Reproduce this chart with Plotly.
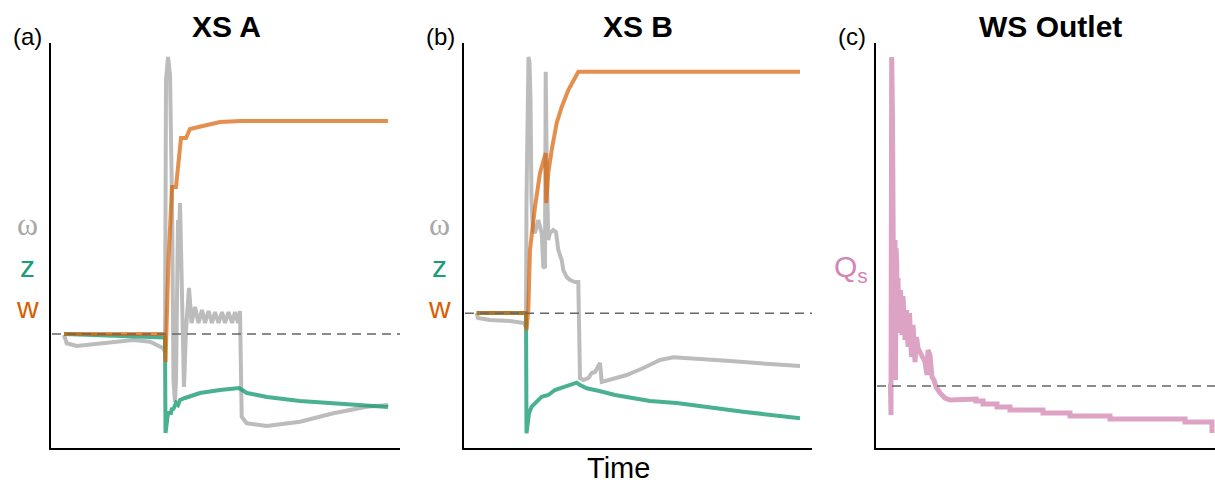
import plotly.graph_objects as go

W, H = 1215, 483

# ---- panel (a) XS A : time vs scaled value ----
a_dash_t = [1, 349]
a_dash_v = [114, 114]

a_w_t = [13, 114, 114.5, 117.5, 121, 125, 130, 135, 139, 144, 149, 159, 169, 189, 337]
a_w_v = [114, 114, 86, 188, 261, 261, 310, 310, 319, 320, 321, 324, 326, 327, 327]

a_z_t = [13, 49, 114, 114.5, 117, 120, 121, 122, 125, 127, 129, 134, 149, 169, 182, 188, 196, 216, 249, 282, 316, 337]
a_z_v = [114, 113, 110.5, 15, 35, 35, 40, 38, 45, 43, 48, 50, 55, 58, 60, 60, 55, 51, 47, 44.7, 42, 41]

a_om_t = [13, 15.7, 25.7, 49, 82.3, 99, 112.3, 114, 115, 117, 119, 121, 122.5, 124, 125, 127, 128, 129,
          131, 133, 135, 138, 140.5, 144, 147.5, 151, 154, 157.5, 161, 164, 167.5, 171, 174, 177.5, 181,
          184, 187, 189, 190.7, 195.7, 215.7, 249, 282.3, 315.7, 337.3]
a_om_v = [113, 104.7, 102, 104.7, 108, 106.3, 99.7, 96, 368, 391, 373, 248, 68, 46, 68, 228, 208, 245,
          148, 61, 118, 160, 125, 141, 125, 138, 125, 137, 125, 136, 125, 136, 125, 136, 125,
          136, 125, 137, 31.3, 24.7, 22, 26.3, 34.7, 41.3, 43]

# ---- panel (b) XS B ----
b_dash_t = [1, 348]
b_dash_v = [134.7, 134.7]

b_w_t = [12.7, 62, 62.5, 64.3, 66, 69.3, 71, 76, 80.3, 81.7, 82.2, 84.3, 87.7, 92.7, 97.7, 104.3, 114.3, 336]
b_w_v = [135, 135, 118, 138, 198, 228, 241, 275, 293, 295, 245, 275, 298, 325, 341, 358, 376.3, 376.3]

b_z_t = [12.7, 62, 62.5, 65, 67.7, 71, 74.3, 77.7, 84.3, 91, 101, 112.7, 116, 122.7, 134.3, 151, 186, 212.7, 279, 336]
b_z_v = [135, 135, 14.7, 34.7, 41.3, 44.7, 48, 51.3, 53, 58, 61.3, 65.3, 63, 59.7, 57.3, 53, 47, 45, 36.3, 29.7]

b_om_t = [12.7, 14, 26, 46, 60, 62, 62.5, 63.5, 64.5, 65.5, 66.5, 67.5, 69, 71, 74.3, 77.7, 79.3, 81,
          81.7, 82.7, 84.3, 86, 89.3, 92, 94.3, 97.7, 99.3, 102.7, 106, 111, 114.3, 116, 119.3, 124.3,
          127.7, 131, 134, 136, 137.7, 146, 162.7, 179.3, 196, 209.3, 229.3, 262.7, 296, 336]
b_om_v = [135, 130, 128, 127, 125, 121, 248, 378, 391, 386, 348, 248, 218, 215, 228, 215, 181.3, 180,
          376.3, 281.3, 208, 215, 218, 216, 198, 188, 178, 171, 168, 166, 166, 70, 68, 70,
          75, 76, 82, 85, 66, 68, 73, 80, 88, 90.7, 89.7, 87.3, 84.7, 82]

# ---- panel (c) WS Outlet ----
c_dash_t = [1, 339]
c_dash_v = [62, 62]

c_qs_t = [12, 14.5, 15, 15.7, 16.5, 17, 17.5, 18, 18.5, 19, 19.5, 20, 20.7, 21.3, 22, 23, 24.5, 26, 27,
          29, 30.5, 32, 33.5, 35.5, 37, 39, 40.5, 42, 46, 49, 51, 52, 54, 56, 58, 60, 64, 69, 74, 87,
          100, 100, 107, 107, 121, 121, 134, 134, 167, 167, 194, 194, 234, 234, 309, 309, 336, 336]
c_qs_v = [62, 62, 33, 391, 328, 243, 148, 230, 160, 208, 68, 200, 185, 120, 170, 115, 158, 113, 152,
          108, 138, 101, 135, 91, 123, 86, 111, 100, 92, 86, 73, 98, 93, 71, 68, 61, 55, 50, 48, 49,
          49, 47, 47, 44, 44, 41, 41, 38, 38, 35, 35, 32, 32, 29, 29, 26, 26, 15]

GRAY = "#bcbcbc"
GREEN = "rgba(27,158,119,0.8)"
ORANGE = "rgba(217,95,2,0.7)"
PINK = "#dca3c4"
DASH = "#666666"

fig = go.Figure()


def line(t, v, color, width, ax, dash=None):
    fig.add_trace(go.Scatter(x=t, y=v, mode="lines", xaxis="x" + ax, yaxis="y" + ax,
                             line=dict(color=color, width=width, dash=dash),
                             hoverinfo="skip", showlegend=False))


line(a_om_t, a_om_v, GRAY, 4, "")
line(a_z_t, a_z_v, GREEN, 4, "")
line(a_w_t, a_w_v, ORANGE, 4, "")
line(a_dash_t, a_dash_v, DASH, 1.6, "", "9px,6px")

line(b_om_t, b_om_v, GRAY, 4, "2")
line(b_z_t, b_z_v, GREEN, 4, "2")
line(b_w_t, b_w_v, ORANGE, 4, "2")
line(b_dash_t, b_dash_v, DASH, 1.6, "2", "9px,6px")

line(c_qs_t, c_qs_v, PINK, 5, "3")
line(c_dash_t, c_dash_v, DASH, 1.6, "3", "9px,6px")

ax_style = dict(showline=True, linecolor="black", linewidth=2, showticklabels=False,
                ticks="", showgrid=False, zeroline=False, fixedrange=True)
ydom = [1 - 448 / H, 1 - 43 / H]

fig.update_layout(
    width=W, height=H,
    margin=dict(l=0, r=0, t=0, b=0),
    paper_bgcolor="white", plot_bgcolor="white",
    font=dict(family="Liberation Sans, Arial, sans-serif", color="black"),
    xaxis=dict(domain=[51 / W, 400 / W], range=[0, 349], anchor="y", **ax_style),
    yaxis=dict(domain=ydom, range=[0, 405], anchor="x", **ax_style),
    xaxis2=dict(domain=[464 / W, 812 / W], range=[0, 348], anchor="y2", **ax_style),
    yaxis2=dict(domain=ydom, range=[0, 405], anchor="x2", **ax_style),
    xaxis3=dict(domain=[876 / W, 1.0], range=[0, 339], anchor="y3", **ax_style),
    yaxis3=dict(domain=ydom, range=[0, 405], anchor="x3", **ax_style),
)


def label(text, px, py, size, color="black", bold=False, family=None):
    f = dict(size=size, color=color)
    if family:
        f["family"] = family
    fig.add_annotation(text="<b>%s</b>" % text if bold else text,
                       x=px / W, y=1 - py / H, xref="paper", yref="paper",
                       showarrow=False, xanchor="center", yanchor="middle", font=f)


label("(a)", 27, 36, 24)
label("(b)", 440, 36, 24)
label("(c)", 852, 36, 24)
label("XS A", 226, 27, 30, bold=True)
label("XS B", 638, 27, 30, bold=True)
label("WS Outlet", 1050, 27, 30, bold=True)

for x0 in (27, 439):
    label("ω", x0, 224, 32, "#a8a8a8", family="Liberation Serif, serif")
    label("z", x0, 266, 30, "#1b9e77")
    label("w", x0, 307, 30, "#d95f02")

label("Q<sub>s</sub>", 851, 268, 30, "#d485b6")
label("Time", 619, 468, 29)

fig.write_html("out.html", config={"displayModeBar": False},
               post_script="document.body.style.margin='0';document.body.style.overflow='hidden';")
